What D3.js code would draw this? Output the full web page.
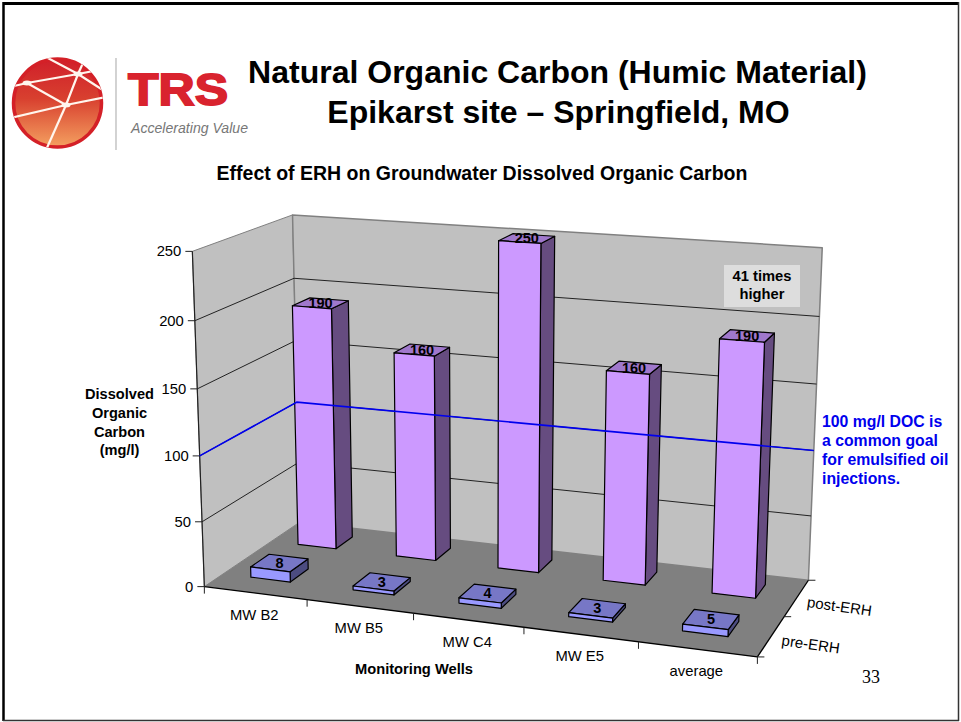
<!DOCTYPE html>
<html>
<head>
<meta charset="utf-8">
<script src="https://cdn.jsdelivr.net/npm/d3@7"></script>
<style>
  html, body { margin: 0; padding: 0; background: #fff; }
  svg { display: block; }
  text { font-family: "Liberation Sans", Arial, sans-serif; fill: #000; }
</style>
</head>
<body>
<div id="chart"></div>
<script>
// chart data
var wells = ["MW B2", "MW B5", "MW C4", "MW E5", "average"];
var series = ["pre-ERH", "post-ERH"];
var preErh = [8, 3, 4, 3, 5];
var postErh = [190, 160, 250, 160, 190];
var valueTicks = [0, 50, 100, 150, 200, 250];
var goalValue = 100;
var goalNote = ["100 mg/l DOC is", "a common goal", "for emulsified oil", "injections."];
var yTitle = ["Dissolved", "Organic", "Carbon", "(mg/l)"];

var W = 961, H = 722;

var svg = d3.select("#chart").append("svg")
  .attr("width", W).attr("height", H);

// slide frame, heavier on top and left
var frame = svg.append("g");
frame.append("line").attr("x1", 3.5).attr("y1", 3.5).attr("x2", 958.5).attr("y2", 3.5).attr("stroke", "#000").attr("stroke-width", 3);
frame.append("line").attr("x1", 3.5).attr("y1", 2).attr("x2", 3.5).attr("y2", 721).attr("stroke", "#000").attr("stroke-width", 2.5);
frame.append("line").attr("x1", 958.5).attr("y1", 2).attr("x2", 958.5).attr("y2", 721).attr("stroke", "#333").attr("stroke-width", 1.5);
frame.append("line").attr("x1", 3).attr("y1", 720.5).attr("x2", 959).attr("y2", 720.5).attr("stroke", "#333").attr("stroke-width", 1.5);

// scales: everything below goes through these and then through project()
var xScale = d3.scaleLinear().domain([0, wells.length]).range([0, 1]);
var zScale = d3.scaleLinear().domain([0, series.length]).range([0, 1]);
var yScale = d3.scaleLinear().domain([0, 250]).range([0, 1]);
var xBand = d3.scaleBand().domain(wells).range([0, wells.length]).paddingInner(0.61).paddingOuter(0.305).align(0.45);
var zBand = d3.scaleBand().domain(series).range([0, series.length]).paddingInner(0.62).paddingOuter(0.31).align(0.6);

// box corners of the 3d plot as seen on the picture: [x, z, y] in 0..1 -> screen
var anchors = [
  [0, 0, 0, 206, 586], [1, 0, 0, 757, 658], [1, 1, 0, 809, 579], [0, 1, 0, 298, 523],
  [0, 0, 1, 191, 251], [0, 1, 1, 294, 215], [1, 1, 1, 822, 248]
];

// least squares fit of a 3x4 projective camera
function fitCamera(pts) {
  var A = [], b = [];
  pts.forEach(function (p) {
    var X = p[0], Z = p[1], Y = p[2], sx = p[3] / 1000, sy = p[4] / 1000;
    A.push([X, Z, Y, 1, 0, 0, 0, 0, -sx * X, -sx * Z, -sx * Y]); b.push(sx);
    A.push([0, 0, 0, 0, X, Z, Y, 1, -sy * X, -sy * Z, -sy * Y]); b.push(sy);
  });
  var n = 11, M = [];
  for (var i = 0; i < n; i++) {
    M.push([]);
    for (var j = 0; j < n; j++) M[i].push(d3.sum(A, function (r) { return r[i] * r[j]; }) + (i === j ? 1e-9 : 0));
    M[i].push(d3.sum(A, function (r, k) { return r[i] * b[k]; }));
  }
  for (var c = 0; c < n; c++) {
    var piv = c;
    for (var r = c + 1; r < n; r++) if (Math.abs(M[r][c]) > Math.abs(M[piv][c])) piv = r;
    var t = M[c]; M[c] = M[piv]; M[piv] = t;
    for (var r2 = 0; r2 < n; r2++) {
      if (r2 === c) continue;
      var f = M[r2][c] / M[c][c];
      for (var k = c; k <= n; k++) M[r2][k] -= f * M[c][k];
    }
  }
  return M.map(function (row, i) { return row[n] / row[i]; });
}
var cam = fitCamera(anchors);

// x in well units, z in series units, y in mg/l
function project(x, z, y) {
  var X = xScale(x), Z = zScale(z), Y = yScale(y);
  var w = cam[8] * X + cam[9] * Z + cam[10] * Y + 1;
  return [
    1000 * (cam[0] * X + cam[1] * Z + cam[2] * Y + cam[3]) / w,
    1000 * (cam[4] * X + cam[5] * Z + cam[6] * Y + cam[7]) / w
  ];
}

var line = d3.line();
function poly(parent, pts, fill, stroke, sw) {
  return parent.append("path")
    .attr("d", line(pts) + "Z")
    .attr("fill", fill)
    .attr("stroke", stroke)
    .attr("stroke-width", sw)
    .attr("stroke-linejoin", "round");
}
function seg(parent, a, b, stroke, sw) {
  return parent.append("line")
    .attr("x1", a[0]).attr("y1", a[1]).attr("x2", b[0]).attr("y2", b[1])
    .attr("stroke", stroke).attr("stroke-width", sw);
}

var nX = wells.length, nZ = series.length;
var plot = svg.append("g");

// walls and floor
poly(plot, [project(0, 0, 0), project(0, nZ, 0), project(0, nZ, 250), project(0, 0, 250)], "#c0c0c0", "#808080", 1);
poly(plot, [project(0, nZ, 0), project(nX, nZ, 0), project(nX, nZ, 250), project(0, nZ, 250)], "#c0c0c0", "#808080", 1.5);
poly(plot, [project(0, 0, 0), project(nX, 0, 0), project(nX, nZ, 0), project(0, nZ, 0)], "#808080", "none", 0);

// gridlines on the two walls
valueTicks.filter(function (d) { return d > 0 && d < 250; }).forEach(function (d) {
  seg(plot, project(0, 0, d), project(0, nZ, d), "#222", 1);
  seg(plot, project(0, nZ, d), project(nX, nZ, d), "#222", 1);
});

// axis lines
seg(plot, project(0, 0, 0), project(0, 0, 250), "#222", 1.2);
seg(plot, project(0, 0, 0), project(nX, 0, 0), "#000", 1.3);
seg(plot, project(nX, 0, 0), project(nX, nZ, 0), "#000", 1.3);

// value axis
valueTicks.forEach(function (d) {
  var p = project(0, 0, d);
  seg(plot, [p[0] - 7, p[1]], p, "#222", 1);
  plot.append("text").attr("x", p[0] - 11).attr("y", p[1] + 5)
    .attr("text-anchor", "end").style("font-size", "14.8px").text(d);
});

// well axis
d3.range(nX + 1).forEach(function (i) {
  var p = project(i, 0, 0);
  seg(plot, p, [p[0], p[1] + 7], "#222", 1);
});
wells.forEach(function (d, i) {
  var p = project(i + 0.5, 0, 0);
  plot.append("text").attr("x", p[0] - 1).attr("y", p[1] + 27)
    .attr("text-anchor", "middle").style("font-size", "14.8px").text(d);
});

// depth axis
d3.range(nZ + 1).forEach(function (i) {
  var p = project(nX, i, 0);
  seg(plot, p, [p[0] + 7, p[1]], "#222", 1);
});
series.forEach(function (d, i) {
  var p = project(nX, i + 0.5, 0);
  plot.append("text")
    .attr("transform", "translate(" + (p[0] + 10) + "," + (p[1] + 9) + ") rotate(8)")
    .style("font-size", "15px").text(d);
});

// one 3d bar
function drawBar(parent, well, name, value, colors) {
  var x0 = xBand(well), x1 = x0 + xBand.bandwidth();
  var z0 = zBand(name), z1 = z0 + zBand.bandwidth();
  var g = parent.append("g");
  poly(g, [project(x1, z0, 0), project(x1, z1, 0), project(x1, z1, value), project(x1, z0, value)], colors[2], "#000", 1.2);
  poly(g, [project(x0, z0, value), project(x1, z0, value), project(x1, z1, value), project(x0, z1, value)], colors[1], "#000", 1.2);
  poly(g, [project(x0, z0, 0), project(x1, z0, 0), project(x1, z0, value), project(x0, z0, value)], colors[0], "#000", 1.2);
  var c = project((x0 + x1) / 2, (z0 + z1) / 2, value);
  g.append("text").attr("x", c[0]).attr("y", c[1] + 5)
    .attr("text-anchor", "middle").style("font-size", "14.5px").style("font-weight", "bold").text(value);
}

var postColors = ["#cc99ff", "#a078cc", "#664c80"];
var preColors = ["#9999ff", "#7777c6", "#4c4c80"];

wells.forEach(function (d, i) { drawBar(plot, d, "post-ERH", postErh[i], postColors); });

// goal line runs along the walls at 100 mg/l, over the tall bars
plot.append("path")
  .attr("d", line([project(0, 0, goalValue), project(0, nZ, goalValue), project(nX, nZ, goalValue)]))
  .attr("fill", "none").attr("stroke", "#0000ee").attr("stroke-width", 1.6);

wells.forEach(function (d, i) { drawBar(plot, d, "pre-ERH", preErh[i], preColors); });

// axis titles
var titleY = svg.append("text").attr("text-anchor", "middle").style("font-weight", "bold").style("font-size", "14.6px");
yTitle.forEach(function (d, i) {
  titleY.append("tspan").attr("x", 119.5).attr("y", 399 + i * 18.8).text(d);
});
svg.append("text").attr("x", 414).attr("y", 674).attr("text-anchor", "middle")
  .style("font-weight", "bold").style("font-size", "14.7px").text("Monitoring Wells");

// annotations
var note = svg.append("text").style("font-weight", "bold").style("font-size", "15.8px").style("fill", "#0000ee");
goalNote.forEach(function (d, i) {
  note.append("tspan").attr("x", 822).attr("y", 427 + i * 19).text(d);
});
svg.append("rect").attr("x", 724).attr("y", 265).attr("width", 76).attr("height", 42).attr("fill", "#dddddd");
var times = svg.append("text").attr("text-anchor", "middle").style("font-weight", "bold").style("font-size", "14.7px");
["41 times", "higher"].forEach(function (d, i) {
  times.append("tspan").attr("x", 762).attr("y", 281 + i * 18).text(d);
});

// slide titles
svg.append("text").attr("x", 557.5).attr("y", 83).attr("text-anchor", "middle")
  .style("font-weight", "bold").style("font-size", "32px").text("Natural Organic Carbon (Humic Material)");
svg.append("text").attr("x", 558.5).attr("y", 123).attr("text-anchor", "middle")
  .style("font-weight", "bold").style("font-size", "32px").text("Epikarst site \u2013 Springfield, MO");
svg.append("text").attr("x", 482).attr("y", 180).attr("text-anchor", "middle")
  .style("font-weight", "bold").style("font-size", "19.5px").text("Effect of ERH on Groundwater Dissolved Organic Carbon");
svg.append("text").attr("x", 871).attr("y", 683).attr("text-anchor", "middle")
  .style("font-family", "'Liberation Serif', serif").style("font-size", "18px").text("33");

// logo
var defs = svg.append("defs");
var grad = defs.append("linearGradient").attr("id", "ball").attr("x1", 0).attr("y1", 0).attr("x2", 0).attr("y2", 1);
grad.append("stop").attr("offset", "0%").attr("stop-color", "#d01f2a");
grad.append("stop").attr("offset", "45%").attr("stop-color", "#d8402f");
grad.append("stop").attr("offset", "100%").attr("stop-color", "#f4a060");
defs.append("clipPath").attr("id", "ballClip").append("circle").attr("cx", 57.5).attr("cy", 103).attr("r", 45.5);

var logo = svg.append("g");
logo.append("circle").attr("cx", 57.5).attr("cy", 103).attr("r", 44)
  .attr("fill", "url(#ball)").attr("stroke", "#d42027").attr("stroke-width", 3.5);
var links = logo.append("g").attr("clip-path", "url(#ballClip)")
  .attr("fill", "none").attr("stroke", "#fff6ee").attr("stroke-width", 2.2);
["M10,118 L66,105 L106,97", "M66,105 L46,150", "M66,105 L78,74 L88,52",
 "M14,86 L27,83 L78,74 L104,69", "M27,83 L66,105", "M44,56 L78,74 L106,92"].forEach(function (d) {
  links.append("path").attr("d", d);
});
[[27, 83], [78, 74], [66, 105]].forEach(function (d) {
  logo.append("ellipse").attr("cx", d[0]).attr("cy", d[1]).attr("rx", 4.5).attr("ry", 2.5).attr("fill", "#fff6ee");
});
seg(logo, [116, 58], [116, 150], "#b5b5b5", 1.2);
logo.append("text").attr("x", 128).attr("y", 105).attr("textLength", 100).attr("lengthAdjust", "spacingAndGlyphs")
  .style("font-weight", "bold").style("font-size", "45px").style("fill", "#d9232e")
  .style("stroke", "#d9232e").style("stroke-width", 1.8).text("TRS");
logo.append("text").attr("x", 131).attr("y", 133).attr("textLength", 117).attr("lengthAdjust", "spacingAndGlyphs")
  .style("font-style", "italic").style("font-size", "15.5px").style("fill", "#777").text("Accelerating Value");
</script>
</body>
</html>
